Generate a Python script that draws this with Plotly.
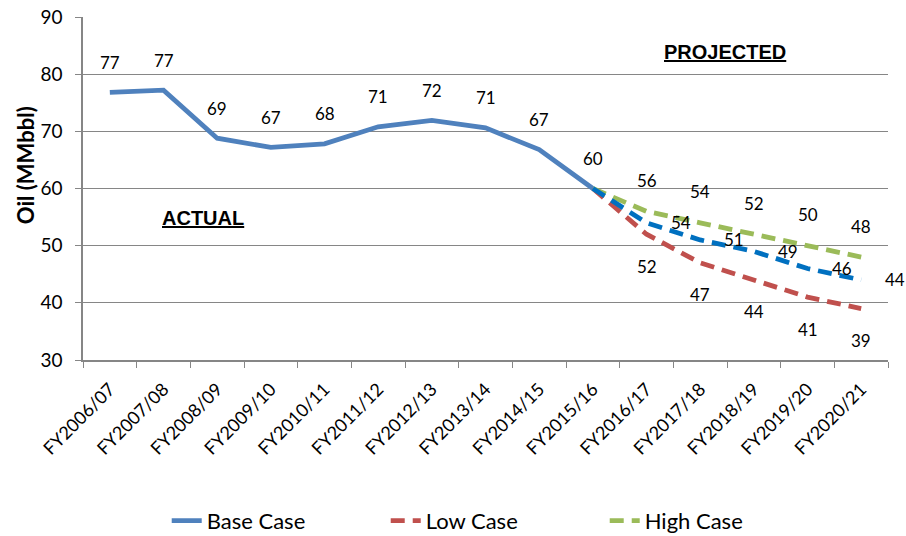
import plotly.graph_objects as go

# Fiscal years on the category axis
years = ["FY2006/07", "FY2007/08", "FY2008/09", "FY2009/10", "FY2010/11",
         "FY2011/12", "FY2012/13", "FY2013/14", "FY2014/15", "FY2015/16",
         "FY2016/17", "FY2017/18", "FY2018/19", "FY2019/20", "FY2020/21"]

# Actual oil production (MMbbl)
actual_years = years[:10]
actual = [76.8, 77.2, 68.8, 67.2, 67.8, 70.8, 71.9, 70.6, 66.8, 60.0]

# Projections, starting from the last actual year
proj_years = years[9:]
base_proj = [60, 54, 51, 49, 46, 44]
low_proj = [60, 52, 47, 44, 41, 39]
high_proj = [60, 56, 54, 52, 50, 48]

BLUE = "#4F81BD"
BLUE_PROJ = "#0070C0"
RED = "#C0504D"
GREEN = "#9BBB59"
GRID = "#868686"
LABEL_FONT = dict(family="Lato, sans-serif", size=17, color="#000000")
TICK_FONT = dict(family="Lato, sans-serif", size=18, color="#000000")
DASH = "14px,8px"

fig = go.Figure()

fig.add_trace(go.Scatter(x=actual_years, y=actual, mode="lines", name="Base Case",
                         line=dict(color=BLUE, width=4.8)))
fig.add_trace(go.Scatter(x=proj_years, y=low_proj, mode="lines", name="Low Case",
                         line=dict(color=RED, width=4.8, dash=DASH)))
fig.add_trace(go.Scatter(x=proj_years, y=high_proj, mode="lines", name="High Case",
                         line=dict(color=GREEN, width=4.8, dash=DASH)))
fig.add_trace(go.Scatter(x=proj_years, y=base_proj, mode="lines", name="Base Case",
                         showlegend=False,
                         line=dict(color=BLUE_PROJ, width=4.8, dash=DASH)))

annotations = []


def add_labels(xs, ys, xshift, yshift, skip_first=False):
    for i, (xv, yv) in enumerate(zip(xs, ys)):
        if skip_first and i == 0:
            continue
        annotations.append(dict(x=xv, y=yv, xref="x", yref="y", text=f"{yv:.0f}",
                                showarrow=False, xshift=xshift, yshift=yshift,
                                font=LABEL_FONT, xanchor="center", yanchor="middle"))


add_labels(actual_years, actual, 0, 30)
add_labels(proj_years, high_proj, 0, 31, skip_first=True)
add_labels(proj_years, base_proj, 34, 0, skip_first=True)
add_labels(proj_years, low_proj, 0, -32, skip_first=True)

CAPTION_FONT = dict(family="Liberation Sans, Arial, sans-serif", size=20, color="#000000")

# Section captions
annotations.append(dict(x=0.149, y=0.413, xref="paper", yref="paper",
                        xanchor="center", yanchor="middle",
                        text="<b><u>ACTUAL</u></b>", showarrow=False, font=CAPTION_FONT))
annotations.append(dict(x=0.797, y=0.898, xref="paper", yref="paper",
                        xanchor="center", yanchor="middle",
                        text="<b><u>PROJECTED</u></b>", showarrow=False, font=CAPTION_FONT))

# Y-axis title
annotations.append(dict(x=-0.072, y=0.568, xref="paper", yref="paper",
                        xanchor="center", yanchor="middle",
                        text="<b>Oil (MMbbl)</b>", showarrow=False, textangle=-90,
                        font=dict(family="Lato, sans-serif", size=22, color="#000000")))

fig.update_layout(
    width=906, height=536,
    margin=dict(l=83, r=18, t=17, b=176, autoexpand=False),
    paper_bgcolor="white", plot_bgcolor="white",
    font=LABEL_FONT,
    showlegend=True,
    legend=dict(orientation="h", x=0.104, xanchor="left", y=-0.469, yanchor="middle",
                font=dict(family="Lato, sans-serif", size=22, color="#000000"),
                entrywidth=174),
    annotations=annotations,
)

fig.update_xaxes(type="category", categoryorder="array", categoryarray=years,
                 range=[-0.5, len(years) - 0.5],
                 tickson="boundaries", ticks="outside", ticklen=6, tickcolor=GRID,
                 showline=True, linecolor=GRID, linewidth=1.5, automargin=False,
                 showgrid=False, tickangle=-45, tickfont=TICK_FONT, ticklabelstandoff=10)
fig.update_yaxes(range=[30, 90], dtick=10, ticks="outside", ticklen=6, tickcolor=GRID,
                 showline=True, linecolor=GRID, linewidth=1.5, automargin=False,
                 showgrid=True, gridcolor=GRID, gridwidth=1.2,
                 zeroline=False, tickfont=dict(family="Lato, sans-serif", size=19, color="#000000"),
                 ticklabelstandoff=9)

fig.write_html("out.html")
